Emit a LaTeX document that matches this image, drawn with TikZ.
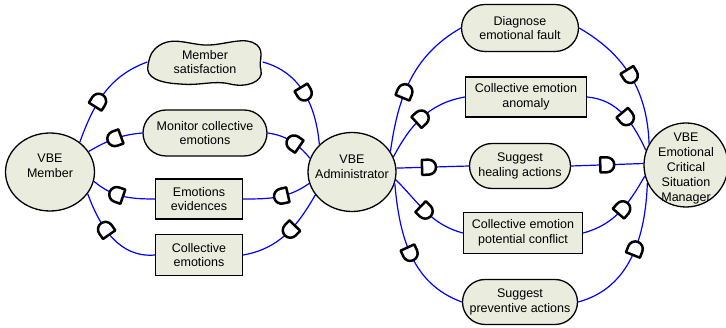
\documentclass[tikz,border=0pt]{standalone}
\usepackage{fontspec}
\setmainfont{Liberation Sans}
\usetikzlibrary{shapes.geometric,shapes.misc,decorations.markings}
\definecolor{nodefill}{RGB}{234,236,222}
\definecolor{linkblue}{RGB}{0,0,255}
\newcommand\Dshape{\draw[black, line width=2.5pt, fill=white, line join=round] (-7pt,-7.5pt) -- (-7pt,7.5pt) -- (-0.5pt,7.5pt) arc[start angle=90, end angle=-90, radius=7.5pt] -- cycle;}
\tikzset{
  txt/.style={align=center, font=\fontsize{12.5}{14.5}\selectfont},
  base/.style={txt, draw=black, line width=1.3pt, fill=nodefill, inner sep=0pt},
  actor/.style={base, ellipse},
  goal/.style={base, rounded rectangle},
  res/.style={base, rectangle},
  lbl/.style={txt, inner sep=0pt},
  link/.style={draw=linkblue, line width=1.2pt},
  dep/.style={postaction={decorate, decoration={markings, mark=at position #1 with {\Dshape}}}},
  dep/.default=0.5,
}
\begin{document}
\begin{tikzpicture}[x=1pt, y=-1pt]
\useasboundingbox (0,0) rectangle (726,328);

% actors
\node[actor, minimum width=89pt, minimum height=78pt] (mem) at (50,172) {};
\node[lbl] at (50,166) {VBE\\Member};
\node[actor, minimum width=88pt, minimum height=79pt] (adm) at (352,172) {};
\node[lbl] at (352,167) {VBE\\Administrator};
\node[actor, minimum width=84pt, minimum height=84pt] (man) at (686,165) {};
\node[lbl, font=\fontsize{12.5}{14.8}\selectfont] at (686,168.5) {VBE\\Emotional\\Critical\\Situation\\Manager};

% softgoal
\draw[line width=1.3pt, fill=nodefill] (160,45) .. controls (175,36) and (192,46) .. (210,45)
  .. controls (228,44) and (246,36) .. (257,45) .. controls (265,52) and (258,62) .. (261,70)
  .. controls (264,82) and (246,88) .. (230,84) .. controls (214,80) and (200,86) .. (180,84)
  .. controls (160,83) and (145,78) .. (148,65) .. controls (150,55) and (152,50) .. (160,45) -- cycle;
\node[lbl, minimum width=115pt, minimum height=45pt] (sat) at (205,62) {Member\\satisfaction};

% goals
\node[goal, minimum width=124pt, minimum height=46pt] (mon) at (205,133) {Monitor collective\\emotions};
\node[goal, minimum width=117pt, minimum height=47pt] (diag) at (520,28) {Diagnose\\emotional fault};
\node[goal, minimum width=101pt, minimum height=45pt] (heal) at (520,166) {Suggest\\healing actions};
\node[goal, minimum width=115pt, minimum height=45pt] (prev) at (520,302) {Suggest\\preventive actions};

% resources
\node[res, minimum width=87pt, minimum height=40pt] (ev) at (199,199) {Emotions\\evidences};
\node[res, minimum width=87pt, minimum height=41pt] (ce) at (199,255) {Collective\\emotions};
\node[res, minimum width=121pt, minimum height=40pt] (anom) at (526,97) {Collective emotion\\anomaly};
\node[res, minimum width=119pt, minimum height=41pt] (conf) at (523,233) {Collective emotion\\potential conflict};

% left side links
\draw[link, dep=0.42] (mem.45) to[out=70, in=200] (sat.west);
\draw[link, dep=0.5] (sat.east) to[out=-15, in=95] (adm.140);

\draw[link, dep=0.45] (adm.162) to[out=130, in=-8] (mon.east);
\draw[link, dep=0.5] (mon.west) to[out=185, in=30] (mem.28);

\draw[link, dep=0.45] (adm.195) to[out=215, in=0] (ev.east);
\draw[link, dep=0.6] (ev.west) to[out=180, in=-40] (mem.-12);

\draw[link, dep=0.45] (adm.212) to[out=240, in=10] (ce.east);
\draw[link, dep=0.6] (ce.west) to[out=185, in=-70] (mem.-30);

% right side links
\draw[link, dep=0.42] (adm.28) to[out=82, in=210] (diag.west);
\draw[link, dep=0.5] (diag.east) to[out=-30, in=92] (man.150);

\draw[link, dep=0.5] (adm.20) to[out=62, in=190] (anom.west);
\draw[link, dep=0.55] (anom.east) to[out=-5, in=115] (man.160);

\draw[link, dep=0.45] (adm.5) -- (heal.west);
\draw[link, dep=0.5] (heal.east) -- (man.178);

\draw[link, dep=0.5] (adm.-10) to[out=-45, in=165] (conf.west);
\draw[link, dep=0.55] (conf.east) to[out=15, in=240] (man.195);

\draw[link, dep=0.5] (adm.-15) to[out=-85, in=160] (prev.west);
\draw[link, dep=0.55] (prev.east) to[out=15, in=-92] (man.205);
\end{tikzpicture}
\end{document}
